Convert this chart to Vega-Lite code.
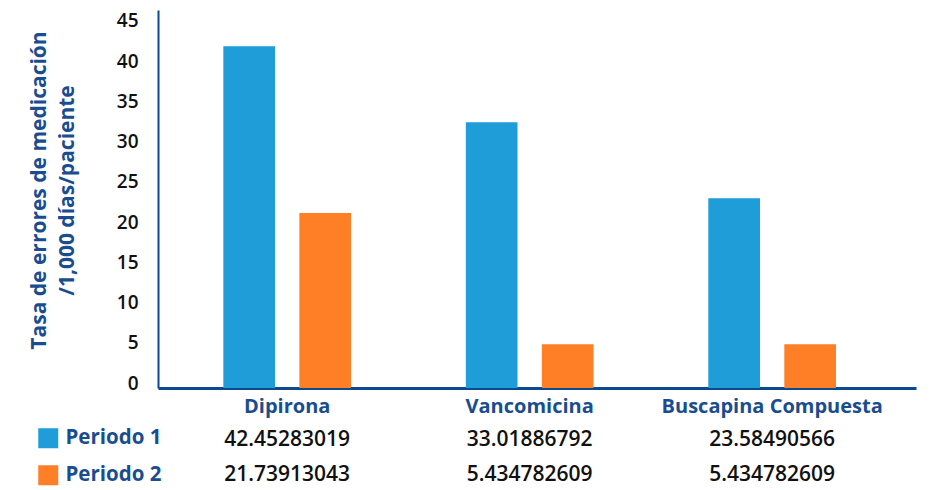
{
  "$schema": "https://vega.github.io/schema/vega-lite/v6.json",
  "width": 758,
  "height": 378,
  "autosize": {"type": "none"},
  "padding": {"left": 158, "top": 10, "right": 22, "bottom": 102},
  "background": "white",
  "config": {"view": {"stroke": null}, "font": "Open Sans"},
  "data": {
    "values": [
      {"drug": "Dipirona", "period": "Periodo 1", "value": 42.45283019},
      {"drug": "Dipirona", "period": "Periodo 2", "value": 21.73913043},
      {"drug": "Vancomicina", "period": "Periodo 1", "value": 33.01886792},
      {"drug": "Vancomicina", "period": "Periodo 2", "value": 5.434782609},
      {"drug": "Buscapina Compuesta", "period": "Periodo 1", "value": 23.58490566},
      {"drug": "Buscapina Compuesta", "period": "Periodo 2", "value": 5.434782609}
    ]
  },
  "layer": [
    {
      "mark": {"type": "bar"},
      "encoding": {
        "x": {
          "field": "drug", "type": "nominal",
          "sort": ["Dipirona", "Vancomicina", "Buscapina Compuesta"],
          "scale": {"paddingInner": 0, "paddingOuter": 0.063, "align": 0.26},
          "axis": {"title": null, "ticks": false, "labelAngle": 0, "labelLimit": 0, "labelFontSize": 20, "labelFontWeight": "bold", "labelColor": "#1A4D8F", "labelPadding": 8, "domainColor": "#0B4A8E", "domainWidth": 3}
        },
        "xOffset": {"field": "period", "type": "nominal", "scale": {"paddingInner": 0.32, "paddingOuter": 0.755}},
        "y": {
          "field": "value", "type": "quantitative",
          "scale": {"domain": [0, 46.96], "nice": false},
          "axis": {
            "values": [0, 5, 10, 15, 20, 25, 30, 35, 40, 45],
            "title": ["Tasa de errores de medicación", "/1,000 días/paciente"],
            "ticks": false, "grid": false,
            "domainColor": "#0B4A8E", "domainWidth": 2,
            "labelFontSize": 19, "labelFontWeight": 600, "labelColor": "#111111", "labelPadding": 20, "labelOffset": -5,
            "titleFontSize": 21, "titleFontWeight": "bold", "titleColor": "#1A4D8F",
            "titleX": -130, "titleY": 180, "titleAngle": -90, "titleAlign": "center", "titleBaseline": "top", "titleLineHeight": 28
          }
        },
        "color": {
          "field": "period", "type": "nominal",
          "scale": {"domain": ["Periodo 1", "Periodo 2"], "range": ["#1E9DD8", "#FF7F27"]},
          "legend": {"orient": "none", "legendX": -120, "legendY": 418, "title": null, "symbolType": "square", "symbolSize": 400, "symbolStrokeWidth": 0, "symbolOpacity": 1, "labelFontSize": 20.5, "labelFontWeight": "bold", "labelColor": "#1A4D8F", "rowPadding": 16, "labelOffset": 7, "padding": 0}
        }
      }
    },
    {
      "transform": [{"filter": "datum.period === 'Periodo 1'"}],
      "mark": {"type": "text", "fontSize": 21, "fontWeight": 600, "color": "#111111"},
      "encoding": {
        "x": {"field": "drug", "type": "nominal", "sort": ["Dipirona", "Vancomicina", "Buscapina Compuesta"]},
        "y": {"datum": -6.5, "type": "quantitative"},
        "text": {"field": "value", "type": "nominal"}
      }
    },
    {
      "transform": [{"filter": "datum.period === 'Periodo 2'"}],
      "mark": {"type": "text", "fontSize": 21, "fontWeight": 600, "color": "#111111"},
      "encoding": {
        "x": {"field": "drug", "type": "nominal", "sort": ["Dipirona", "Vancomicina", "Buscapina Compuesta"]},
        "y": {"datum": -10.8, "type": "quantitative"},
        "text": {"field": "value", "type": "nominal"}
      }
    }
  ]
}
